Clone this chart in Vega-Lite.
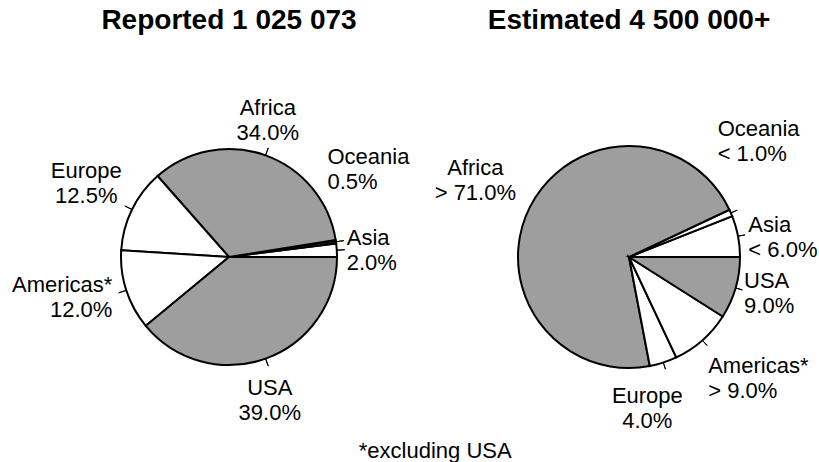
{
  "$schema": "https://vega.github.io/schema/vega-lite/v6.json",
  "background": "white",
  "padding": {"left": 9, "top": 7, "right": 0, "bottom": 0},
  "config": {"view": {"stroke": null}, "font": "Liberation Sans"},
  "datasets": {
    "reported": [
      {"region": "Asia", "share": 2.0, "shareLabel": "2.0%"},
      {"region": "Oceania", "share": 0.5, "shareLabel": "0.5%"},
      {"region": "Africa", "share": 34.0, "shareLabel": "34.0%"},
      {"region": "Europe", "share": 12.5, "shareLabel": "12.5%"},
      {"region": "Americas*", "share": 12.0, "shareLabel": "12.0%"},
      {"region": "USA", "share": 39.0, "shareLabel": "39.0%"}
    ],
    "estimated": [
      {"region": "Asia", "share": 6.0, "shareLabel": "< 6.0%"},
      {"region": "Oceania", "share": 1.0, "shareLabel": "< 1.0%"},
      {"region": "Africa", "share": 71.0, "shareLabel": "> 71.0%"},
      {"region": "Europe", "share": 4.0, "shareLabel": "4.0%"},
      {"region": "Americas*", "share": 9.0, "shareLabel": "> 9.0%"},
      {"region": "USA", "share": 9.0, "shareLabel": "9.0%"}
    ]
  },
  "title": {"text": "*excluding USA", "orient": "bottom", "anchor": "middle", "fontSize": 22, "fontWeight": "normal", "font": "Liberation Sans", "color": "black", "offset": 9, "dx": 22},
  "spacing": -15,
  "resolve": {"scale": {"color": "independent", "theta": "independent"}},
  "hconcat": [
    {
      "width": 440,
      "height": 340,
      "title": {"text": "Reported 1 025 073", "fontSize": 28, "fontWeight": "bold", "font": "Liberation Sans", "color": "black", "offset": 52, "anchor": "middle"},
      "data": {"name": "reported"},
      "transform": [{"window": [{"op": "row_number", "as": "idx"}]}],
      "encoding": {
        "theta": {"field": "share", "type": "quantitative", "stack": true, "scale": {"domain": [0, 100], "range": [1.5707963, -4.712389]}},
        "order": {"field": "idx", "type": "quantitative"},
        "color": {"field": "region", "type": "nominal", "scale": {"domain": ["Asia", "Oceania", "Africa", "Europe", "Americas*", "USA"], "range": ["#ffffff", "#1a1a1a", "#9e9e9e", "#ffffff", "#ffffff", "#9e9e9e"]}, "legend": null}
      },
      "layer": [
        {"mark": {"type": "arc", "outerRadius": 108, "stroke": "black", "strokeWidth": 2}},
        {"mark": {"type": "arc", "innerRadius": 108, "outerRadius": 116, "padAngle": 3.1, "filled": false}, "encoding": {"stroke": {"value": "black"}, "strokeWidth": {"value": 1}}},
        {
          "mark": {
            "type": "text", "fontSize": 22, "baseline": "middle",
            "align": {"expr": "datum.region === 'Americas*' ? 'right' : (datum.region === 'Asia' || datum.region === 'Oceania') ? 'left' : 'center'"},
            "dx": {"expr": "datum.region === 'Asia' ? -32 : datum.region === 'Oceania' ? -50 : datum.region === 'Africa' ? -12 : datum.region === 'Europe' ? -8 : datum.region === 'Americas*' ? 26 : -10"},
            "dy": {"expr": "-12 + (datum.region === 'Asia' ? 2 : datum.region === 'Oceania' ? -67 : datum.region === 'Africa' ? 4 : datum.region === 'Europe' ? -8 : datum.region === 'Americas*' ? -6 : 2)"}
          },
          "encoding": {
            "text": {"field": "region"},
            "fill": {"value": "black"},
            "radius": {"value": 150}
          }
        },
        {
          "mark": {
            "type": "text", "fontSize": 22, "baseline": "middle",
            "align": {"expr": "datum.region === 'Americas*' ? 'right' : (datum.region === 'Asia' || datum.region === 'Oceania') ? 'left' : 'center'"},
            "dx": {"expr": "datum.region === 'Asia' ? -32 : datum.region === 'Oceania' ? -50 : datum.region === 'Africa' ? -12 : datum.region === 'Europe' ? -8 : datum.region === 'Americas*' ? 26 : -10"},
            "dy": {"expr": "13 + (datum.region === 'Asia' ? 2 : datum.region === 'Oceania' ? -67 : datum.region === 'Africa' ? 4 : datum.region === 'Europe' ? -8 : datum.region === 'Americas*' ? -6 : 2)"}
          },
          "encoding": {
            "text": {"field": "shareLabel"},
            "fill": {"value": "black"},
            "radius": {"value": 150}
          }
        }
      ]
    },
    {
      "width": 358,
      "height": 340,
      "title": {"text": "Estimated 4 500 000+", "fontSize": 28, "fontWeight": "bold", "font": "Liberation Sans", "color": "black", "offset": 52, "anchor": "middle"},
      "data": {"name": "estimated"},
      "transform": [{"window": [{"op": "row_number", "as": "idx"}]}],
      "encoding": {
        "theta": {"field": "share", "type": "quantitative", "stack": true, "scale": {"domain": [0, 100], "range": [1.5707963, -4.712389]}},
        "order": {"field": "idx", "type": "quantitative"},
        "color": {"field": "region", "type": "nominal", "scale": {"domain": ["Asia", "Oceania", "Africa", "Europe", "Americas*", "USA"], "range": ["#ffffff", "#ffffff", "#9e9e9e", "#ffffff", "#ffffff", "#9e9e9e"]}, "legend": null}
      },
      "layer": [
        {"mark": {"type": "arc", "outerRadius": 111, "stroke": "black", "strokeWidth": 2}},
        {"mark": {"type": "arc", "innerRadius": 111, "outerRadius": 118, "padAngle": 3.1, "filled": false}, "encoding": {"stroke": {"value": "black"}, "strokeWidth": {"value": 1}, "strokeOpacity": {"condition": {"test": "datum.share > 50", "value": 0}, "value": 1}}},
        {
          "mark": {
            "type": "text", "fontSize": 22, "baseline": "middle",
            "align": {"expr": "(datum.region === 'Asia' || datum.region === 'Oceania' || datum.region === 'USA' || datum.region === 'Americas*') ? 'left' : 'center'"},
            "dx": {"expr": "datum.region === 'Asia' ? -28 : datum.region === 'Oceania' ? -49 : datum.region === 'Africa' ? -20 : datum.region === 'Europe' ? -28 : datum.region === 'Americas*' ? -20 : -29"},
            "dy": {"expr": "-12 + (datum.region === 'Asia' ? 8 : datum.region === 'Oceania' ? -56 : datum.region === 'Africa' ? -9 : datum.region === 'Europe' ? 8 : datum.region === 'Americas*' ? 8 : -6)"}
          },
          "encoding": {
            "text": {"field": "region"},
            "fill": {"value": "black"},
            "radius": {"value": 150}
          }
        },
        {
          "mark": {
            "type": "text", "fontSize": 22, "baseline": "middle",
            "align": {"expr": "(datum.region === 'Asia' || datum.region === 'Oceania' || datum.region === 'USA' || datum.region === 'Americas*') ? 'left' : 'center'"},
            "dx": {"expr": "datum.region === 'Asia' ? -28 : datum.region === 'Oceania' ? -49 : datum.region === 'Africa' ? -20 : datum.region === 'Europe' ? -28 : datum.region === 'Americas*' ? -20 : -29"},
            "dy": {"expr": "13 + (datum.region === 'Asia' ? 8 : datum.region === 'Oceania' ? -56 : datum.region === 'Africa' ? -9 : datum.region === 'Europe' ? 8 : datum.region === 'Americas*' ? 8 : -6)"}
          },
          "encoding": {
            "text": {"field": "shareLabel"},
            "fill": {"value": "black"},
            "radius": {"value": 150}
          }
        }
      ]
    }
  ]
}
